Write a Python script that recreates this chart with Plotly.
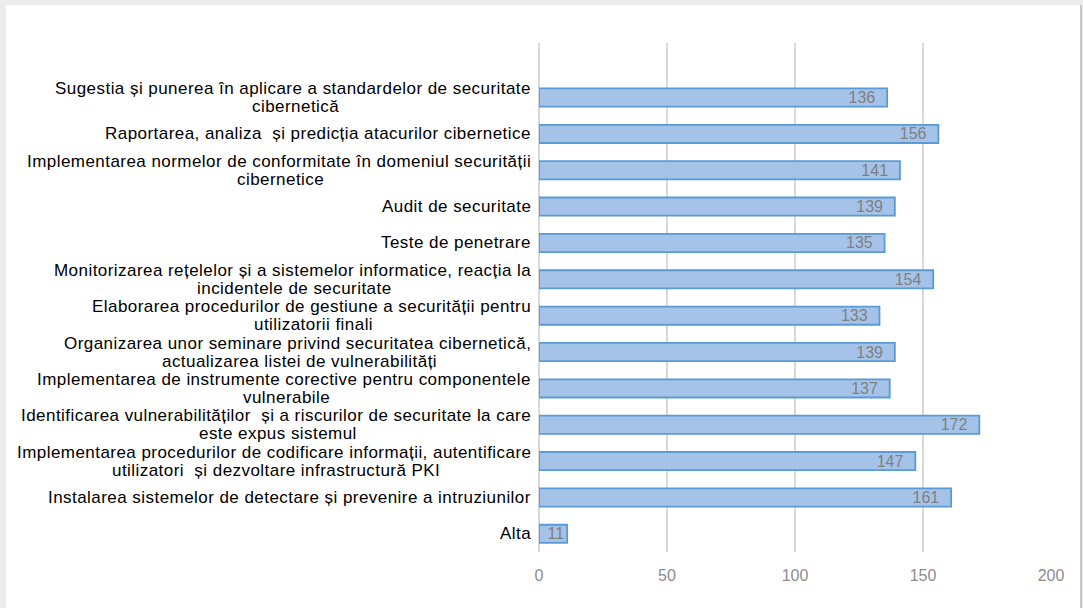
import plotly.graph_objects as go

# Category labels: each is a list of display lines
label_lines = [
    ["Sugestia și punerea în aplicare a standardelor de securitate", "cibernetică"],
    ["Raportarea, analiza  și predicția atacurilor cibernetice"],
    ["Implementarea normelor de conformitate în domeniul securității", "cibernetice"],
    ["Audit de securitate"],
    ["Teste de penetrare"],
    ["Monitorizarea rețelelor și a sistemelor informatice, reacția la", "incidentele de securitate"],
    ["Elaborarea procedurilor de gestiune a securității pentru", "utilizatorii finali"],
    ["Organizarea unor seminare privind securitatea cibernetică,", "actualizarea listei de vulnerabilități"],
    ["Implementarea de instrumente corective pentru componentele", "vulnerabile"],
    ["Identificarea vulnerabilităților  și a riscurilor de securitate la care", "este expus sistemul"],
    ["Implementarea procedurilor de codificare informații, autentificare", "utilizatori  și dezvoltare infrastructură PKI"],
    ["Instalarea sistemelor de detectare și prevenire a intruziunilor"],
    ["Alta"],
]
categories = [" ".join(l) for l in label_lines]
values = [136, 156, 141, 139, 135, 154, 133, 139, 137, 172, 147, 161, 11]
x_ticks = [0, 50, 100, 150, 200]

W, H = 1083, 608
L, R, T, B = 539, 32, 43, 56
pw, ph = W - L - R, H - T - B

FONT = "Liberation Sans, Arial, sans-serif"
LBL_SIZE = 17
LSP = 0.45  # letter spacing px

# Arial / Liberation Sans advance widths (1/1000 em) for text measuring
_w = {}
for ch in " ,.!'": _w[ch] = 278
_w["-"] = 333
for ch in "abdeghnopqu": _w[ch] = 556
for ch in "ckvxyzs": _w[ch] = 500
for ch in "fijlt": _w[ch] = 278
_w["i"] = 222; _w["j"] = 222; _w["l"] = 222
_w["m"] = 833; _w["r"] = 333; _w["w"] = 722
for ch in "ABEKPSVXY": _w[ch] = 667
for ch in "CDHNRU": _w[ch] = 722
for ch in "FTZ": _w[ch] = 611
for ch in "GOQ": _w[ch] = 778
_w["I"] = 278; _w["J"] = 500; _w["L"] = 556; _w["M"] = 833; _w["W"] = 944
_w.update({"ă": 556, "â": 556, "î": 278, "ș": 500, "ț": 278, "ş": 500, "ţ": 278})


def text_width(s):
    return sum(_w.get(c, 556) for c in s) * LBL_SIZE / 1000 + LSP * len(s)


def px_x(p):
    return (p - L) / pw


def px_y(p):
    return (H - B - p) / ph


bar_text = [f"{v}\u00a0\u00a0" if v >= 20 else str(v) for v in values]

fig = go.Figure()
fig.add_trace(go.Bar(
    x=values,
    y=categories,
    orientation="h",
    width=0.5,
    marker=dict(color="#a5c2e9", line=dict(color="#5b9bd5", width=1.8)),
    text=bar_text,
    texttemplate="%{text}",
    textposition="inside",
    insidetextanchor="end",
    textangle=0,
    constraintext="none",
    textfont=dict(family=FONT, size=16, color="#808080"),
    cliponaxis=False,
    hoverinfo="skip",
))

GAP = 6
annotations = []
for cat, lines in zip(categories, label_lines):
    lbl_font = dict(family=FONT, size=LBL_SIZE, color="#000000")
    if len(lines) == 1:
        annotations.append(dict(
            x=0, xref="paper", y=cat, yref="y",
            text=f'<span style="letter-spacing:{LSP}px">{lines[0]}</span>',
            showarrow=False, xanchor="right", yanchor="middle",
            xshift=-GAP, font=lbl_font))
    else:
        w1 = text_width(lines[0])
        annotations.append(dict(
            x=0, xref="paper", y=cat, yref="y",
            text=f'<span style="letter-spacing:{LSP}px">{lines[0]}</span>',
            showarrow=False, xanchor="right", yanchor="middle",
            xshift=-GAP, yshift=9, font=lbl_font))
        annotations.append(dict(
            x=0, xref="paper", y=cat, yref="y",
            text=f'<span style="letter-spacing:{LSP}px">{lines[1]}</span>',
            showarrow=False, xanchor="center", yanchor="middle",
            xshift=-GAP - w1 / 2, yshift=-9, font=lbl_font))

shapes = [
    dict(type="rect", xref="paper", yref="paper", layer="below",
         x0=px_x(6), x1=px_x(1080), y0=px_y(612), y1=px_y(5),
         fillcolor="white", line=dict(width=0)),
    dict(type="line", xref="paper", yref="paper",
         x0=px_x(1081), x1=px_x(1081), y0=px_y(612), y1=px_y(5),
         line=dict(color="#a0a0a0", width=1)),
]

fig.update_layout(
    width=W, height=H,
    margin=dict(l=L, r=R, t=T, b=B),
    paper_bgcolor="#ececec",
    plot_bgcolor="white",
    showlegend=False,
    annotations=annotations,
    shapes=shapes,
    font=dict(family=FONT),
)
fig.update_xaxes(
    range=[0, 200], tickvals=x_ticks, ticktext=[str(v) for v in x_ticks],
    showgrid=True, gridcolor="#d9d9d9", gridwidth=1.5,
    zeroline=True, zerolinecolor="#d9d9d9", zerolinewidth=1.5,
    showline=False, ticks="",
    tickfont=dict(family=FONT, size=16, color="#8c8c8c"),
    ticklabelstandoff=12,
)
fig.update_yaxes(
    type="category", categoryorder="array", categoryarray=categories,
    range=[len(categories) - 0.5, -1.5],
    showticklabels=False, showgrid=False, zeroline=False, showline=False, ticks="",
)

fig.write_html("out.html", config={"displayModeBar": False},
               post_script="document.body.style.margin='0';")
